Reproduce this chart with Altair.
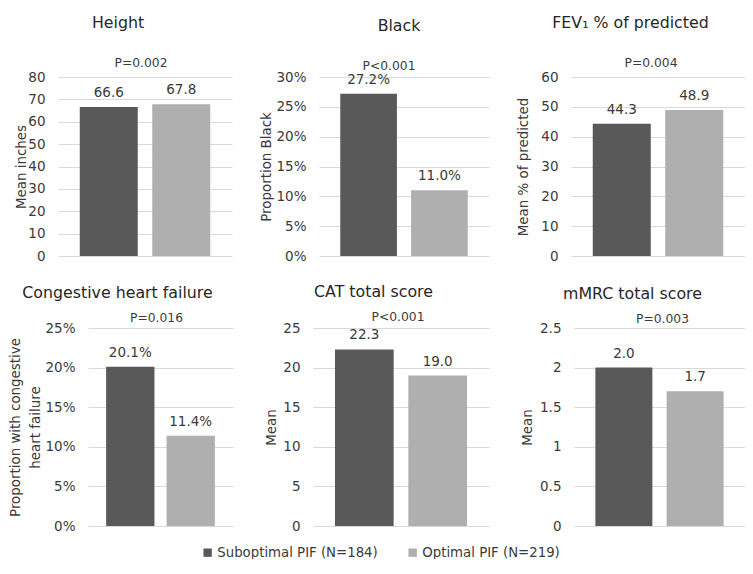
import altair as alt
import pandas as pd

# ---------------- data ----------------
panel_titles = ["Height", "Black", "FEV\u2081 % of predicted",
                "Congestive heart failure", "CAT total score", "mMRC total score"]
axis_titles = ["Mean inches", "Proportion Black", "Mean % of predicted",
               ["Proportion with congestive", "heart failure"], "Mean", "Mean"]
groups = ["Suboptimal PIF (N=184)", "Optimal PIF (N=219)"]
suboptimal_vals = [66.6, 0.272, 44.3, 0.201, 22.3, 2.0]
optimal_vals = [67.8, 0.110, 48.9, 0.114, 19.0, 1.7]
p_values = ["P=0.002", "P<0.001", "P=0.004", "P=0.016", "P<0.001", "P=0.003"]
y_max = [80, 0.30, 60, 0.25, 25, 2.5]
y_ticks = [
    [0, 10, 20, 30, 40, 50, 60, 70, 80],
    [0, 0.05, 0.10, 0.15, 0.20, 0.25, 0.30],
    [0, 10, 20, 30, 40, 50, 60],
    [0, 0.05, 0.10, 0.15, 0.20, 0.25],
    [0, 5, 10, 15, 20, 25],
    [0, 0.5, 1, 1.5, 2, 2.5],
]
value_formats = [".1f", ".1%", ".1f", ".1%", ".1f", ".1f"]
axis_formats = ["d", ".0%", "d", ".0%", "d", "~g"]

# ---------------- style / layout ----------------
FONT = "DejaVu Sans"
DARK, LIGHT = "#595959", "#afafaf"
TXT = "#3a3a3a"
widths = [174, 170, 174, 145, 176, 171]
heights = [179, 179, 179, 198, 198, 198]
extents = [30, 46, 41, 46, 35, 40]
title_frames = ["bounds", "group", "bounds", "bounds", "bounds", "bounds"]
title_offsets = [25, 25, 25, 10.5, 10.5, 10.5]
title_dx = [-5, -5, 0, -3, -3, 0]
p_dx = [-4, -15, -7, -4, -3, 3]
p_dy = [-10, -7, -10, -6, -7, -5]


def panel(i):
    df = pd.DataFrame({"group": groups,
                       "value": [suboptimal_vals[i], optimal_vals[i]]})
    yscale = alt.Scale(domain=[0, y_max[i]], nice=False, zero=True)
    yaxis = alt.Axis(values=y_ticks[i], format=axis_formats[i],
                     title=axis_titles[i], grid=True, labelOverlap=False,
                     gridColor="#d9d9d9", gridWidth=1,
                     domain=False, ticks=False, labelPadding=13,
                     labelFontSize=13.5, labelColor=TXT, labelFont=FONT,
                     titleFontSize=13.4, titleFont=FONT, titleColor=TXT,
                     titleFontWeight="normal", titleLineHeight=20,
                     minExtent=extents[i], maxExtent=extents[i],
                     titlePadding=0)
    base = alt.Chart(df).encode(
        x=alt.X("group:N", sort=groups, axis=None,
                scale=alt.Scale(paddingInner=0.2, paddingOuter=0.3)),
        y=alt.Y("value:Q", scale=yscale, axis=yaxis),
    )
    bars = base.mark_bar().encode(
        color=alt.Color("group:N", sort=groups,
                        scale=alt.Scale(domain=groups, range=[DARK, LIGHT]),
                        legend=alt.Legend(orient="none", legendX=143, legendY=469,
                                          direction="horizontal", title=None,
                                          symbolType="square", symbolSize=70,
                                          symbolStrokeWidth=0, labelLimit=400,
                                          labelFontSize=13.3, labelFont=FONT,
                                          labelColor=TXT, columnPadding=28,
                                          labelOffset=3))
    )
    labels = base.mark_text(baseline="alphabetic", dy=-10, fontSize=13.5,
                            font=FONT, color=TXT).encode(
        text=alt.Text("value:Q", format=value_formats[i]))
    pdf = pd.DataFrame({"p": [p_values[i]], "top": [y_max[i]]})
    ptxt = alt.Chart(pdf).mark_text(baseline="alphabetic", dy=p_dy[i], dx=p_dx[i],
                                    fontSize=12.3, font=FONT, color=TXT).encode(
        x=alt.value(widths[i] / 2),
        y=alt.Y("top:Q", scale=yscale, axis=yaxis),
        text="p:N")
    return alt.layer(bars, labels, ptxt).properties(
        width=widths[i], height=heights[i],
        title=alt.Title(panel_titles[i], fontSize=15.8, font=FONT, color="#262626",
                        fontWeight="normal", anchor="middle", dx=title_dx[i],
                        frame=title_frames[i], offset=title_offsets[i]))


spacer = alt.Chart(pd.DataFrame({"a": [0]})).mark_point(opacity=0).encode(
    x=alt.value(0), y=alt.value(0)).properties(width=1, height=1)

top = alt.hconcat(panel(0), panel(1), panel(2), spacing=27)
first_bottom = alt.hconcat(spacer, panel(3), spacing=29, bounds="flush")
bottom = alt.hconcat(first_bottom, panel(4), panel(5), spacing=31)

chart = alt.vconcat(top, bottom, spacing=20).properties(
    padding={"left": 0, "top": 7, "right": 0, "bottom": 0},
    background="white",
).configure_view(strokeWidth=0)

chart.save("out.html", embed_options={"renderer": "svg", "actions": False})
